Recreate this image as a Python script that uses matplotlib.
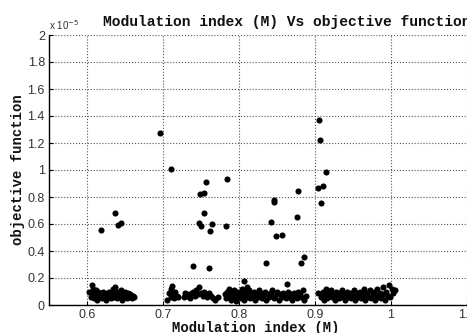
import matplotlib
matplotlib.use("Agg")
import matplotlib.pyplot as plt
from matplotlib.ticker import FuncFormatter

# values in units of 1e-5
x_low1 = [0.603,0.605,0.606,0.607,0.608,0.609,0.610,0.611,0.612,0.613,
          0.614,0.615,0.617,0.618,0.620,0.621,0.622,0.624,0.625,0.626,
          0.628,0.629,0.630,0.632,0.633,0.634,0.636,0.637,0.638,0.640,
          0.641,0.642,0.644,0.645,0.646,0.648,0.649,0.650,0.652,0.653,
          0.654,0.656,0.657,0.659,0.660,0.662]
y_low1 = [0.10,0.06,0.15,0.08,0.12,0.05,0.09,0.07,0.11,0.04,
          0.08,0.10,0.06,0.09,0.05,0.10,0.07,0.08,0.04,0.09,
          0.06,0.10,0.07,0.05,0.08,0.12,0.06,0.13,0.09,0.05,
          0.10,0.07,0.08,0.11,0.04,0.09,0.06,0.10,0.07,0.05,
          0.09,0.06,0.08,0.05,0.07,0.06]

x_low2 = [0.705,0.708,0.710,0.711,0.712,0.713,0.714,0.716,0.718,0.720,
          0.727,0.729,0.732,0.734,0.736,0.738,0.740,0.742,0.744,0.746,
          0.748,0.750,0.752,0.754,0.756,0.758,0.760,0.763,0.766,0.769,
          0.772]
y_low2 = [0.04,0.09,0.12,0.06,0.14,0.08,0.05,0.10,0.07,0.06,
          0.06,0.09,0.07,0.08,0.05,0.09,0.10,0.07,0.11,0.08,
          0.13,0.09,0.07,0.10,0.08,0.06,0.09,0.07,0.05,0.04,
          0.06]

x_low3 = [0.781,0.783,0.784,0.786,0.787,0.789,0.790,0.792,0.793,0.795,
          0.796,0.798,0.799,0.801,0.802,0.804,0.805,0.807,0.808,0.810,
          0.811,0.813,0.815,0.816,0.818,0.820,0.821,0.823,0.825,0.826,
          0.828,0.830,0.832,0.834,0.836,0.838,0.840,0.842,0.844,0.846,
          0.848,0.850,0.852,0.854,0.856,0.858,0.860,0.862,0.864,0.866,
          0.868,0.870,0.872,0.874,0.876,0.878,0.880,0.882,0.884,0.886,
          0.888]
y_low3 = [0.08,0.05,0.10,0.07,0.12,0.04,0.09,0.06,0.11,0.08,
          0.03,0.10,0.06,0.09,0.05,0.12,0.07,0.04,0.10,0.08,
          0.06,0.11,0.05,0.09,0.07,0.10,0.04,0.08,0.06,0.11,
          0.09,0.05,0.07,0.10,0.04,0.08,0.06,0.09,0.11,0.05,
          0.07,0.10,0.04,0.08,0.06,0.09,0.07,0.05,0.10,0.06,
          0.08,0.04,0.09,0.07,0.05,0.10,0.08,0.06,0.11,0.04,
          0.07]

x_low4 = [0.904,0.908,0.910,0.912,0.913,0.915,0.916,0.918,0.919,0.921,
          0.922,0.924,0.926,0.927,0.929,0.931,0.932,0.934,0.936,0.937,
          0.939,0.941,0.942,0.944,0.946,0.947,0.949,0.951,0.952,0.954,
          0.956,0.957,0.959,0.961,0.962,0.964,0.966,0.967,0.969,0.971,
          0.972,0.974,0.976,0.977,0.979,0.981,0.982,0.984,0.986,0.987,
          0.989,0.991,0.992,0.994,0.996,0.997,0.999,1.001,1.003,1.005]
y_low4 = [0.09,0.06,0.10,0.04,0.08,0.12,0.05,0.09,0.07,0.11,
          0.06,0.08,0.04,0.10,0.07,0.05,0.09,0.06,0.11,0.08,
          0.04,0.07,0.10,0.06,0.09,0.05,0.08,0.11,0.04,0.07,
          0.09,0.06,0.10,0.05,0.08,0.12,0.04,0.07,0.09,0.06,
          0.11,0.05,0.08,0.10,0.04,0.07,0.12,0.06,0.09,0.05,
          0.13,0.08,0.04,0.10,0.07,0.15,0.06,0.12,0.09,0.11]

x_high = [0.618,0.637,0.641,0.645,0.696,0.710,0.740,0.747,0.749,0.750,
          0.754,0.754,0.756,0.760,0.762,0.764,0.783,0.784,0.806,0.810,
          0.835,0.842,0.846,0.846,0.849,0.856,0.863,0.876,0.877,0.882,
          0.885,0.904,0.905,0.907,0.908,0.911,0.915]
y_high = [0.556,0.684,0.595,0.605,1.274,1.010,0.289,0.605,0.820,0.588,
          0.832,0.684,0.913,0.274,0.551,0.600,0.588,0.931,0.178,0.136,
          0.311,0.617,0.775,0.766,0.514,0.521,0.153,0.654,0.847,0.311,
          0.356,0.864,1.368,1.225,0.758,0.881,0.988]

x_ticks = [0.6, 0.7, 0.8, 0.9, 1.0, 1.1]
y_ticks = [0, 0.2, 0.4, 0.6, 0.8, 1.0, 1.2, 1.4, 1.6, 1.8, 2.0]

title = "Modulation index (M) Vs objective function"
xlabel = "Modulation index (M)"
ylabel = "objective function"

W, H = 467, 333
fig = plt.figure(figsize=(W / 100, H / 100), dpi=100)
ax = fig.add_axes([49 / W, 28 / H, 418 / W, 270 / H])

xs = x_low1 + x_low2 + x_low3 + x_low4 + x_high
ys = y_low1 + y_low2 + y_low3 + y_low4 + y_high
ax.plot(xs, ys, linestyle="none", marker="o", markersize=4.4,
        color="black", markeredgewidth=0, zorder=3)

ax.set_xlim(0.55, 1.1)
ax.set_ylim(0, 2)
ax.set_xticks(x_ticks)
ax.set_yticks(y_ticks)
fmt = FuncFormatter(lambda v, p: "%g" % round(v, 3))
ax.xaxis.set_major_formatter(fmt)
ax.yaxis.set_major_formatter(fmt)
ax.tick_params(direction="in", length=3, width=0.8, labelsize=9,
               labelcolor="#333333", top=False, right=False, pad=3)
for lab in ax.get_xticklabels() + ax.get_yticklabels():
    lab.set_family("Liberation Sans")

ax.grid(True, linestyle=":", color="#555555", linewidth=0.8)
ax.set_axisbelow(True)
ax.spines["top"].set_visible(False)
ax.spines["right"].set_visible(False)
ax.spines["left"].set_linewidth(1.0)
ax.spines["bottom"].set_linewidth(1.0)

mono = dict(family="Liberation Mono", fontweight="bold", color="#111111")
fig.text(287 / W, 1 - 22 / H, title, ha="center", va="center", fontsize=10.5, **mono)
fig.text(256 / W, 1 - 328 / H, xlabel, ha="center", va="center", fontsize=10, **mono)
fig.text(18 / W, 1 - 170 / H, ylabel, ha="center", va="center", rotation=90,
         fontsize=10, **mono)
fig.text(49 / W, 1 - 25 / H, r"x 10$^{-5}$", ha="left", va="center",
         fontsize=7, family="Liberation Sans", color="#333333")

fig.savefig("out.png", dpi=100)
